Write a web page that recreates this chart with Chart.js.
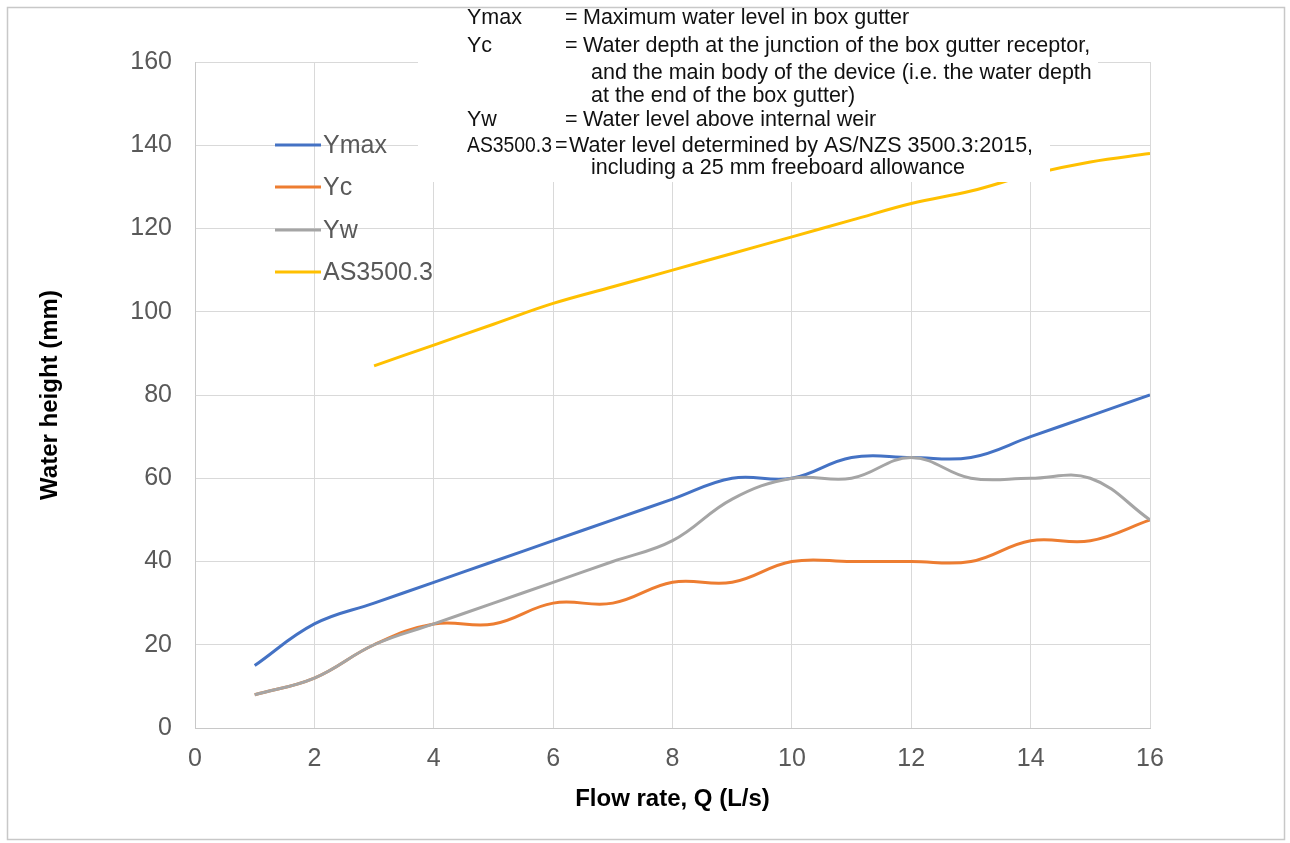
<!DOCTYPE html>
<html>
<head>
<meta charset="utf-8">
<script src="https://cdn.jsdelivr.net/npm/chart.js@4.4.1/dist/chart.umd.min.js"></script>
<style>
  html, body { margin:0; padding:0; background:#fff; }
  #wrap { width:1290px; height:843px; }
</style>
</head>
<body>
<div id="wrap"><canvas id="waterChart" width="1290" height="843"></canvas></div>
<script>
// flow rate Q (L/s)
const flowRates = [1,2,3,4,5,6,7,8,9,10,11,12,13,14,15,16];
// water heights (mm)
const ymaxValues = [15,25,30,35,40,45,50,55,60,60,65,65,65,70,75,80];
const ycValues   = [8,12,20,25,25,30,30,35,35,40,40,40,40,45,45,50];
const ywValues   = [8,12,20,25,30,35,40,45,55,60,60,65,60,60,60,50];
const asValues   = [null,null,87,92,97,102,106,110,114,118,122,126,129,133,136,138];

const xTicks = [0,2,4,6,8,10,12,14,16];
const yTicks = [0,20,40,60,80,100,120,140,160];

// [symbol, text] ; empty symbol = continuation line
const noteLines = [
    ["Ymax", "Maximum water level in box gutter"],
    ["Yc", "Water depth at the junction of the box gutter receptor,"],
    ["", "and the main body of the device (i.e. the water depth"],
    ["", "at the end of the box gutter)"],
    ["Yw", "Water level above internal weir"],
    ["AS3500.3", "Water level determined by AS/NZS 3500.3:2015,"],
    ["", "including a 25 mm freeboard allowance"]
];

function toPoints(vals){
    return flowRates.map(function(q,i){ return {x:q, y:vals[i]}; });
}

const tickColor = "#595959";
const gridColor = "#d9d9d9";

// frame, note box and legend drawn on the canvas
const extras = {
    id:'extras',
    beforeDraw(chart){
        const ctx = chart.ctx;
        ctx.save();
        ctx.fillStyle = "#fff";
        ctx.fillRect(0,0,chart.width,chart.height);
        ctx.strokeStyle = "#c8c8c8";
        ctx.lineWidth = 1.5;
        ctx.strokeRect(7.5,7.5,chart.width-13,chart.height-11);
        ctx.restore();
    },
    afterDatasetsDraw(chart){
        const ctx = chart.ctx;
        ctx.save();
        // white box behind the notes
        ctx.fillStyle = "#fff";
        ctx.fillRect(418,9,680,124);
        ctx.fillRect(418,133,632,49);
        ctx.fillStyle = "#111";
        ctx.font = "21.5px 'Liberation Sans', Arial, sans-serif";
        ctx.textBaseline = "middle";
        const ys = [18,46,73,96,120,146,168];
        noteLines.forEach(function(l,i){
            if(l[0] === "AS3500.3"){
                ctx.fillText(l[0],467,ys[i],85);
                ctx.fillText("=",555,ys[i]);
                ctx.fillText(l[1],569,ys[i]);
            } else if(l[0]){
                ctx.fillText(l[0],467,ys[i]);
                ctx.fillText("=",565,ys[i]);
                ctx.fillText(l[1],583,ys[i]);
            } else {
                ctx.fillText(l[1],591,ys[i]);
            }
        });
        // legend
        ctx.font = "25px 'Liberation Sans', Arial, sans-serif";
        const ly = [145,187,230,272];
        chart.data.datasets.forEach(function(ds,i){
            ctx.strokeStyle = ds.borderColor;
            ctx.lineWidth = 3;
            ctx.beginPath();
            ctx.moveTo(275,ly[i]);
            ctx.lineTo(321,ly[i]);
            ctx.stroke();
            ctx.fillStyle = tickColor;
            ctx.fillText(ds.label,323,ly[i]+1);
        });
        ctx.restore();
    }
};

new Chart(document.getElementById("waterChart"),{
    type:'line',
    data:{
        datasets:[
            {label:'Ymax', data:toPoints(ymaxValues), borderColor:'#4472C4', order:4},
            {label:'Yc', data:toPoints(ycValues), borderColor:'#ED7D31', order:3},
            {label:'Yw', data:toPoints(ywValues), borderColor:'#A5A5A5', order:2},
            {label:'AS3500.3', data:toPoints(asValues), borderColor:'#FFC000', order:1}
        ]
    },
    options:{
        responsive:false,
        animation:false,
        layout:{padding:{left:30, top:62, right:140, bottom:0}},
        elements:{
            line:{borderWidth:3, tension:0.4, fill:false},
            point:{radius:0}
        },
        plugins:{
            legend:{display:false},
            tooltip:{enabled:false}
        },
        scales:{
            x:{
                type:'linear', min:0, max:16,
                afterFit(s){ s.height = 115; },
                afterBuildTicks(s){ s.ticks = xTicks.map(v => ({value:v})); },
                grid:{color:gridColor, drawTicks:false},
                border:{color:'#c8c8c8'},
                ticks:{color:tickColor, padding:16, font:{size:25, family:"'Liberation Sans', Arial"}},
                title:{display:true, text:'Flow rate, Q (L/s)', color:'#000',
                    padding:{top:0, bottom:29},
                    font:{size:24, weight:'bold', family:"'Liberation Sans', Arial"}}
            },
            y:{
                min:0, max:160,
                afterFit(s){ s.width = 165; },
                afterBuildTicks(s){ s.ticks = yTicks.map(v => ({value:v})); },
                grid:{color:gridColor, drawTicks:false},
                border:{color:'#c8c8c8'},
                ticks:{color:tickColor, padding:23, font:{size:25, family:"'Liberation Sans', Arial"}},
                title:{display:true, text:'Water height (mm)', color:'#000',
                    padding:{top:6, bottom:0},
                    font:{size:24, weight:'bold', family:"'Liberation Sans', Arial"}}
            }
        }
    },
    plugins:[extras]
});
</script>
</body>
</html>
